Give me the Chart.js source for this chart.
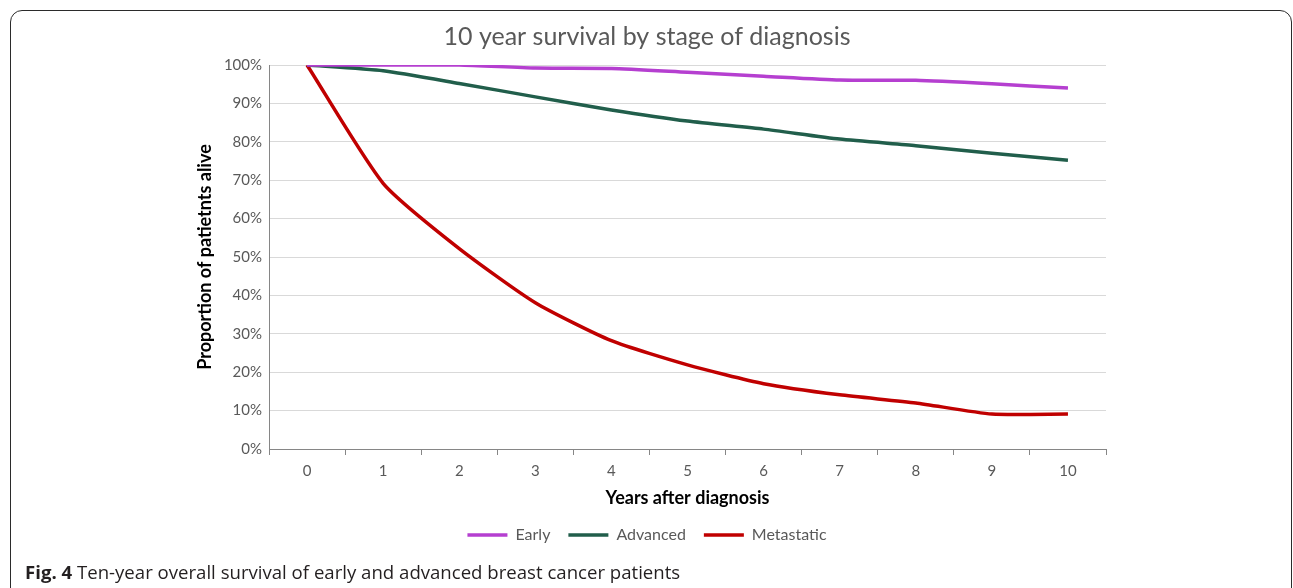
<!DOCTYPE html>
<html>
<head>
<meta charset="utf-8">
<script src="https://cdn.jsdelivr.net/npm/chart.js@4/dist/chart.umd.min.js"></script>
<style>
  html, body { margin: 0; padding: 0; background: #fff; }
  #wrap { position: relative; width: 1293px; height: 588px; overflow: hidden; }
  #frame { position: absolute; left: 10px; top: 10px; width: 1282px; height: 600px;
           border: 1.5px solid #2b2b2b; border-radius: 12px; box-sizing: border-box; }
  #c { position: absolute; left: 0; top: 0; }
  #cap { position: absolute; left: 25px; top: 559px; font-family: "Open Sans", sans-serif;
         font-size: 18.6px; color: #231f20; white-space: nowrap; }
  #cap b { color: #231f20; }
</style>
</head>
<body>
<div id="wrap">
  <div id="frame"></div>
  <canvas id="c" width="1293" height="588"></canvas>
  <div id="cap"><b>Fig. 4</b> Ten-year overall survival of early and advanced breast cancer patients</div>
</div>
<script>
const years = ["0","1","2","3","4","5","6","7","8","9","10"];
const early = [100, 100, 100, 99.2, 99.1, 98.1, 97.1, 96.1, 96.0, 95.1, 94.0];
const advanced = [100, 98.5, 95.2, 91.7, 88.3, 85.4, 83.3, 80.7, 79.0, 77.0, 75.2];
const metastatic = [100, 69.2, 52.2, 38.1, 28.2, 21.9, 17.0, 14.1, 12.0, 9.1, 9.1];
const seriesNames = ["Early", "Advanced", "Metastatic"];
const yTicks = [0, 10, 20, 30, 40, 50, 60, 70, 80, 90, 100];

const FONT = "Lato, 'Open Sans', sans-serif";
const colors = ["#b53fd0", "#215e4b", "#c00000"];
const values = [early, advanced, metastatic];

new Chart(document.getElementById('c'), {
  type: 'line',
  data: {
    labels: years,
    datasets: seriesNames.map((n, i) => ({
      label: n,
      data: values[i],
      borderColor: colors[i],
      backgroundColor: colors[i],
      borderWidth: 3.5,
      pointRadius: 0,
      pointStyle: 'line',
      tension: 0.2,
      fill: false
    }))
  },
  options: {
    responsive: false,
    animation: false,
    layout: { padding: { left: 188, right: 187, top: 0, bottom: 35 } },
    plugins: {
      title: {
        display: true,
        text: "10 year survival by stage of diagnosis",
        color: "#595959",
        font: { family: FONT, size: 25, weight: 'normal' },
        padding: { top: 22, bottom: 13 }
      },
      legend: {
        position: 'bottom',
        labels: {
          usePointStyle: true,
          pointStyleWidth: 40,
          boxHeight: 16,
          color: "#595959",
          font: { family: FONT, size: 16 },
          padding: 18
        }
      },
      tooltip: { enabled: false }
    },
    scales: {
      x: {
        offset: true,
        afterFit: (s) => { s.height = 60; },
        grid: { offset: true, drawOnChartArea: false, drawTicks: true, tickLength: 6, color: "#868686" },
        border: { color: "#868686", width: 1 },
        ticks: { color: "#595959", font: { family: FONT, size: 15 }, padding: 7 },
        title: { display: true, text: "Years after diagnosis", color: "#000",
                 font: { family: FONT, size: 18, weight: 'bold' }, padding: { top: 0, bottom: 0 } }
      },
      y: {
        min: 0, max: 100,
        afterFit: (s) => { s.width = 81; },
        afterBuildTicks: (s) => { s.ticks = yTicks.map(v => ({ value: v })); },
        grid: { color: "#d9d9d9", drawTicks: false },
        border: { color: "#868686", width: 1 },
        ticks: { color: "#595959", font: { family: FONT, size: 15 }, padding: 7,
                 callback: (v) => v + "%" },
        title: { display: true, text: "Proportion of patietnts alive", color: "#000",
                 font: { family: FONT, size: 18, weight: 'bold' }, padding: { top: 6, bottom: 4 } }
      }
    }
  }
});
</script>
</body>
</html>
